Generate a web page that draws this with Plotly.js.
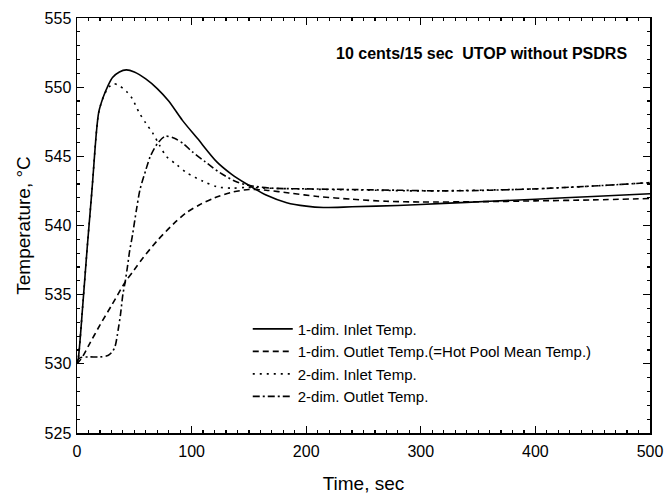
<!DOCTYPE html>
<html>
<head>
<meta charset="utf-8">
<script src="https://cdn.plot.ly/plotly-3.0.1.min.js"></script>
<style>html,body{margin:0;padding:0;background:#fff;}#chart{width:664px;height:500px;}</style>
</head>
<body>
<div id="chart"></div>
<script>
// 1-dim. Inlet Temp.
const t1In = [0, 1, 5, 9, 13, 17, 19, 23, 27, 31, 37, 43, 50, 60, 70, 80, 92, 105, 122, 135, 148, 165, 183, 200, 215, 240, 280, 320, 360, 400, 450, 500];
const y1In = [530, 530.3, 534.2, 538.5, 542.5, 546.8, 548.2, 549.3, 550.1, 550.7, 551.1, 551.25, 551.1, 550.6, 549.9, 549.0, 547.6, 546.3, 544.6, 543.7, 543.0, 542.2, 541.65, 541.4, 541.3, 541.35, 541.45, 541.6, 541.75, 541.9, 542.1, 542.3];

// 1-dim. Outlet Temp.(=Hot Pool Mean Temp.)
const t1Out = [0, 4, 10, 20, 30, 42, 50, 58, 70, 84, 95, 107, 120, 135, 150, 165, 185, 210, 240, 270, 300, 350, 400, 450, 500];
const y1Out = [530, 530.4, 531.3, 532.8, 534.2, 535.9, 536.8, 537.7, 538.9, 540.1, 540.9, 541.5, 542.0, 542.4, 542.6, 542.55, 542.35, 542.1, 541.9, 541.75, 541.7, 541.72, 541.78, 541.85, 541.95];

// 2-dim. Inlet Temp.
const t2In = [0, 1, 5, 9, 13, 17, 19, 23, 26, 29, 32, 37, 43, 48, 54, 60, 66, 72, 78, 87, 96, 110, 122, 135, 148, 165, 190, 220, 260, 300, 350, 400, 450, 500];
const y2In = [530, 530.3, 534.2, 538.5, 542.5, 546.8, 548.2, 549.3, 549.8, 550.1, 550.25, 550.1, 549.7, 549.2, 548.2, 547.4, 546.7, 545.8, 545.0, 544.4, 543.8, 543.2, 542.8, 542.7, 542.75, 542.7, 542.65, 542.6, 542.55, 542.5, 542.55, 542.65, 542.85, 543.1];

// 2-dim. Outlet Temp.
const t2Out = [0, 3, 10, 20, 27, 30, 33, 36, 38, 40, 42, 44, 46, 48, 52, 55, 60, 64, 70, 77, 85, 93, 101, 112, 125, 138, 150, 170, 200, 240, 280, 320, 360, 400, 450, 500];
const y2Out = [530.2, 530.45, 530.5, 530.5, 530.6, 530.8, 531.2, 532.5, 533.6, 535.0, 535.9, 537.0, 538.2, 539.1, 541.2, 542.6, 544.0, 545.0, 545.9, 546.45, 546.3, 545.9, 545.3, 544.6, 543.8, 543.2, 542.9, 542.7, 542.65, 542.6, 542.55, 542.5, 542.55, 542.65, 542.85, 543.1];

const names = ["1-dim. Inlet Temp.", "1-dim. Outlet Temp.(=Hot Pool Mean Temp.)", "2-dim. Inlet Temp.", "2-dim. Outlet Temp."];
const xTicks = [0, 100, 200, 300, 400, 500];
const yTicks = [525, 530, 535, 540, 545, 550, 555];
const titleText = "10 cents/15 sec&nbsp;&nbsp;UTOP without PSDRS";

const FONT = "Liberation Sans, Arial, sans-serif";
const mk = (x, y, name, dash) => ({
  x: x, y: y, name: name, type: "scatter", mode: "lines",
  line: {color: "#000", width: 1.6, dash: dash, shape: "spline", smoothing: 0.8}
});

const data = [
  mk(t1In, y1In, names[0], "solid"),
  mk(t1Out, y1Out, names[1], "6px,4px"),
  mk(t2In, y2In, names[2], "2px,5px"),
  mk(t2Out, y2Out, names[3], "7px,3px,2px,3px")
];

const axisCommon = {
  showline: true, linecolor: "#000", linewidth: 1.5, mirror: "allticks",
  ticks: "inside", ticklen: 7, tickwidth: 1.2, tickcolor: "#000",
  showgrid: false, zeroline: false,
  tickfont: {family: FONT, size: 16, color: "#000"}
};

const layout = {
  width: 664, height: 500,
  margin: {l: 77, r: 14, t: 18, b: 67},
  paper_bgcolor: "#fff", plot_bgcolor: "#fff",
  font: {family: FONT, color: "#000"},
  xaxis: Object.assign({}, axisCommon, {
    range: [0, 500], tickvals: xTicks, ticklabelstandoff: 3,
    minor: {dtick: 10, ticks: "inside", ticklen: 3, tickcolor: "#000", showgrid: false},
    title: {text: "Time, sec", font: {family: FONT, size: 19, color: "#000"}, standoff: 18}
  }),
  yaxis: Object.assign({}, axisCommon, {
    range: [525, 555], tickvals: yTicks, ticklabelstandoff: 1,
    minor: {dtick: 1, ticks: "inside", ticklen: 3, tickcolor: "#000", showgrid: false},
    title: {text: "Temperature, °C", font: {family: FONT, size: 19, color: "#000"}, standoff: 9}
  }),
  showlegend: true,
  legend: {
    x: 0.298, y: 0.29, xanchor: "left", yanchor: "top",
    bgcolor: "rgba(0,0,0,0)", borderwidth: 0,
    font: {family: FONT, size: 15, color: "#000"},
    tracegroupgap: 0, itemwidth: 40
  },
  annotations: [{
    text: "<b>" + titleText + "</b>", xref: "paper", yref: "paper",
    x: 0.963, y: 0.915, xanchor: "right", yanchor: "middle", showarrow: false,
    font: {family: FONT, size: 16, color: "#000"}
  }]
};

Plotly.newPlot("chart", data, layout, {displayModeBar: false, staticPlot: true});
</script>
</body>
</html>
